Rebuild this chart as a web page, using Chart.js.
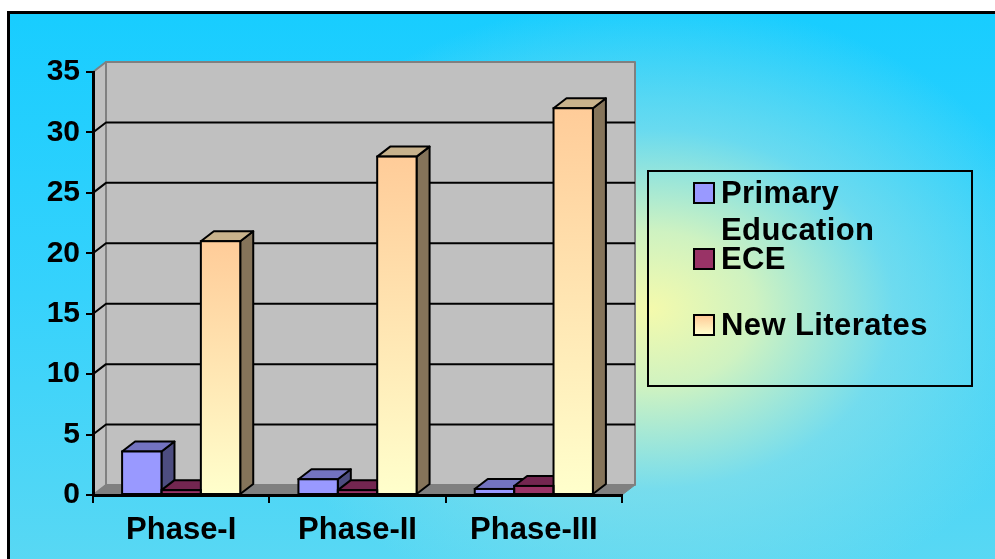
<!DOCTYPE html>
<html>
<head>
<meta charset="utf-8">
<title>Education phases</title>
<script src="https://cdn.jsdelivr.net/npm/chart.js@4/dist/chart.umd.min.js"></script>
<style>
  html, body { margin: 0; padding: 0; width: 995px; height: 559px; overflow: hidden; background: #fff; }
  #frame {
    position: absolute; left: 7px; top: 11px; width: 1000px; height: 560px;
    border: 3px solid #000;
    background:
      radial-gradient(ellipse 420px 310px at 640px 295px, rgba(244,250,172,1) 0%, rgba(215,244,190,0.95) 25%, rgba(140,224,232,0.65) 58%, rgba(40,208,255,0) 100%),
      linear-gradient(to bottom, #18cdff 0%, #36d2fc 50%, #5ad8f3 100%);
  }
  #chart { position: absolute; left: 0; top: 0; }
  #legend {
    position: absolute; left: 647px; top: 170px; width: 322px; height: 213px;
    border: 2px solid #000;
    font: bold 31px "Liberation Sans", Arial, sans-serif; color: #000;
    letter-spacing: 0.4px;
  }
  .item { position: absolute; left: 0; }
  .swatch { position: absolute; left: 44px; top: 8px; width: 18px; height: 18px; border: 2px solid #000; }
  .label { position: absolute; left: 72px; top: 0; width: 250px; line-height: 37px; }
</style>
</head>
<body>
<div id="frame"></div>
<canvas id="chart" width="995" height="559"></canvas>
<div id="legend"></div>
<script>
// data
const categories = ['Phase-I', 'Phase-II', 'Phase-III'];
const seriesNames = ['Primary Education', 'ECE', 'New Literates'];
const primaryEducation = [3.6, 1.3, 0.5];
const ece = [0.4, 0.4, 0.75];
const newLiterates = [21, 28, 32];
const yMin = 0;
const yMax = 35;
const yStep = 5;

// 3d depth offset and face colours
const DX = 13, DY = -10;
const faces = [
    { front: '#9999ff', top: '#7373c0', side: '#4d4d80' },
    { front: '#993366', top: '#732650', side: '#4d1a33' },
    { front: '#ffe0b0', top: '#c8b28c', side: '#85745a' }
];
const FONT = '"Liberation Sans", Arial, sans-serif';

function literatesFill(c) {
    const chart = c.chart;
    const y = chart.scales && chart.scales.y;
    if (!chart.chartArea || !y || c.raw === undefined) return faces[2].front;
    const top = y.getPixelForValue(c.raw);
    const bottom = y.getPixelForValue(0);
    const g = chart.ctx.createLinearGradient(0, top, 0, bottom);
    g.addColorStop(0, '#ffcc99');
    g.addColorStop(1, '#ffffcc');
    return g;
}

function poly(ctx, pts, fill, stroke, lw) {
    ctx.beginPath();
    ctx.moveTo(pts[0][0], pts[0][1]);
    for (let i = 1; i < pts.length; i++) ctx.lineTo(pts[i][0], pts[i][1]);
    ctx.closePath();
    if (fill) { ctx.fillStyle = fill; ctx.fill(); }
    if (stroke) { ctx.strokeStyle = stroke; ctx.lineWidth = lw; ctx.stroke(); }
}

function eachBar(chart, fn) {
    for (let i = 0; i < categories.length; i++) {
        chart.data.datasets.forEach((ds, d) => {
            const el = chart.getDatasetMeta(d).data[i];
            if (el) fn(el.x - el.width / 2, el.x + el.width / 2, el.y, el.base, d);
        });
    }
}

const walls3d = {
    id: 'walls3d',
    beforeDraw(chart) {
        const { ctx, chartArea: a } = chart;
        const y = chart.scales.y;
        ctx.save();
        ctx.lineJoin = 'round';
        // back wall
        poly(ctx, [[a.left + DX, a.top + DY], [a.right + DX, a.top + DY], [a.right + DX, a.bottom + DY], [a.left + DX, a.bottom + DY]], '#c0c0c0', '#808080', 2);
        // side wall
        poly(ctx, [[a.left, a.top], [a.left + DX, a.top + DY], [a.left + DX, a.bottom + DY], [a.left, a.bottom]], '#c0c0c0', '#808080', 2);
        // floor
        poly(ctx, [[a.left, a.bottom], [a.left + DX, a.bottom + DY], [a.right + DX, a.bottom + DY], [a.right, a.bottom]], '#808080', '#808080', 1);
        // gridlines
        ctx.strokeStyle = '#000';
        ctx.lineWidth = 2;
        y.ticks.forEach(t => {
            if (t.value <= yMin || t.value >= yMax) return;
            const py = y.getPixelForValue(t.value);
            ctx.beginPath();
            ctx.moveTo(a.left, py);
            ctx.lineTo(a.left + DX, py + DY);
            ctx.lineTo(a.right + DX, py + DY);
            ctx.stroke();
        });
        ctx.restore();
    },
    beforeDatasetsDraw(chart) {
        const ctx = chart.ctx;
        ctx.save();
        ctx.lineJoin = 'round';
        eachBar(chart, (l, r, t, b, d) => {
            poly(ctx, [[r, t], [r + DX, t + DY], [r + DX, b + DY], [r, b]], faces[d].side, '#000', 2);
            poly(ctx, [[l, t], [l + DX, t + DY], [r + DX, t + DY], [r, t]], faces[d].top, '#000', 2);
        });
        ctx.restore();
    },
    afterDatasetsDraw(chart) {
        // outline front faces centred on the edges
        const ctx = chart.ctx;
        ctx.save();
        ctx.strokeStyle = '#000';
        ctx.lineWidth = 2;
        eachBar(chart, (l, r, t, b) => {
            ctx.strokeRect(l, t, r - l, b - t);
        });
        ctx.restore();
    }
};

const chart = new Chart(document.getElementById('chart').getContext('2d'), {
    type: 'bar',
    data: {
        labels: categories,
        datasets: [
            { label: seriesNames[0], data: primaryEducation, backgroundColor: faces[0].front },
            { label: seriesNames[1], data: ece, backgroundColor: faces[1].front },
            { label: seriesNames[2], data: newLiterates, backgroundColor: literatesFill }
        ].map(ds => Object.assign(ds, {
            borderWidth: 0, barPercentage: 1, categoryPercentage: 0.67
        }))
    },
    options: {
        responsive: false,
        animation: false,
        layout: { padding: { left: 30, top: 72, right: 373, bottom: 0 } },
        plugins: { legend: { display: false }, tooltip: { enabled: false } },
        scales: {
            x: {
                grid: { drawOnChartArea: false, drawTicks: true, tickLength: 8, color: '#000', lineWidth: 2, offset: true },
                border: { display: true, color: '#000', width: 3 },
                ticks: { color: '#000', font: { family: FONT, size: 31, weight: 'bold' }, padding: 9 },
                afterFit(s) { s.height = 64; }
            },
            y: {
                min: yMin, max: yMax,
                grid: { drawOnChartArea: false, drawTicks: true, tickLength: 7, color: '#000', lineWidth: 2 },
                border: { display: true, color: '#000', width: 3 },
                ticks: { stepSize: yStep, color: '#000', font: { family: FONT, size: 30, weight: 'bold' }, padding: 6 },
                afterFit(s) { s.width = 63; }
            }
        }
    },
    plugins: [walls3d]
});

// html legend, wraps like the original
const legend = document.getElementById('legend');
const swatchFills = [faces[0].front, faces[1].front, 'linear-gradient(to bottom, #ffcc99, #ffffcc)'];
seriesNames.forEach((name, i) => {
    const item = document.createElement('div');
    item.className = 'item';
    item.style.top = (2 + i * 66) + 'px';
    item.innerHTML = `<div class="swatch" style="background:${swatchFills[i]}"></div><div class="label">${name}</div>`;
    legend.appendChild(item);
});
</script>
</body>
</html>
